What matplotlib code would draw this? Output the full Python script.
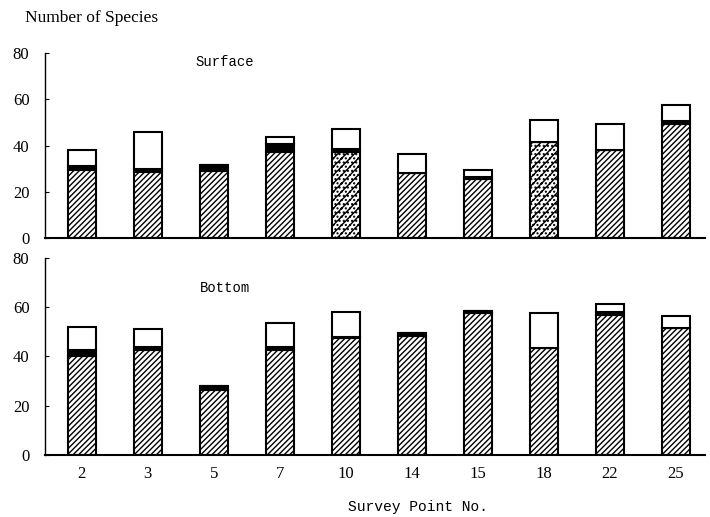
import matplotlib.pyplot as plt
import numpy as np

# -----------------------
# Data
# -----------------------
points = ["2", "3", "5", "7", "10", "14", "15", "18", "22", "25"]

surface_hatched = [29.5, 28.5, 29, 37, 37, 28, 25.5, 41.5, 38, 49.5]
surface_black = [1.5, 1.5, 2.5, 3.5, 1.5, 0, 1, 0, 0, 1]
surface_white = [7, 16, 0, 3, 8.5, 8.5, 3, 9.5, 11.5, 7]
surface_dotted = [False, False, False, False, True, False, False, True, False, False]

bottom_hatched = [40, 42.5, 26.5, 42.5, 47.5, 48.5, 57.5, 43.5, 57, 51.5]
bottom_black = [2.5, 1.5, 1.5, 1.5, 0.5, 1, 1, 0, 1, 0]
bottom_white = [9.5, 7, 0, 9.5, 10, 0, 0, 14, 3.5, 5]
bottom_dotted = [False] * 10

plt.rcParams["hatch.linewidth"] = 1.0

fig = plt.figure(figsize=(7.1, 5.17), dpi=100)
ax_top = fig.add_axes([0.063, 0.540, 0.930, 0.357])
ax_bot = fig.add_axes([0.063, 0.120, 0.930, 0.381])

x = np.arange(len(points))
width = 0.42


def draw_panel(ax, hatched, black, white, dotted, label, label_y):
    hatched = np.array(hatched)
    black = np.array(black)
    white = np.array(white)
    for i in range(len(x)):
        h = "////...." if dotted[i] else "//////"
        ax.bar(x[i], hatched[i], width, color="white", edgecolor="black",
               hatch=h, linewidth=1.5)
    ax.bar(x, black, width, bottom=hatched, color="black",
           edgecolor="black", linewidth=1.5)
    ax.bar(x, white, width, bottom=hatched + black, color="white",
           edgecolor="black", linewidth=1.5)

    ax.set_ylim(0, 80)
    ax.set_xlim(-0.56, 9.44)
    ax.set_yticks([0, 20, 40, 60, 80])
    ax.spines["top"].set_visible(False)
    ax.spines["right"].set_visible(False)
    ax.spines["left"].set_linewidth(1.0)
    ax.spines["bottom"].set_linewidth(1.5)
    ax.tick_params(axis="y", direction="in", length=3,
                   labelsize=12, pad=11)
    for t in ax.get_yticklabels():
        t.set_fontfamily("Liberation Serif")
    ax.text(0.273, label_y, label, transform=ax.transAxes,
            fontfamily="Liberation Mono", fontsize=10, ha="center", va="center")


draw_panel(ax_top, surface_hatched, surface_black, surface_white,
           surface_dotted, "Surface", 0.95)
draw_panel(ax_bot, bottom_hatched, bottom_black, bottom_white,
           bottom_dotted, "Bottom", 0.85)

ax_top.set_xticks([])
ax_bot.set_xticks(x)
ax_bot.set_xticklabels(points, fontfamily="Liberation Serif", fontsize=12)
ax_bot.tick_params(axis="x", length=0, pad=8)

fig.text(0.035, 0.965, "Number of Species", fontfamily="Liberation Serif",
         fontsize=12.5, ha="left", va="center")
fig.text(0.589, 0.005, "Survey Point No.", fontfamily="Liberation Mono",
         fontsize=10.5, ha="center", va="bottom")

plt.savefig("out.png", dpi=100)
